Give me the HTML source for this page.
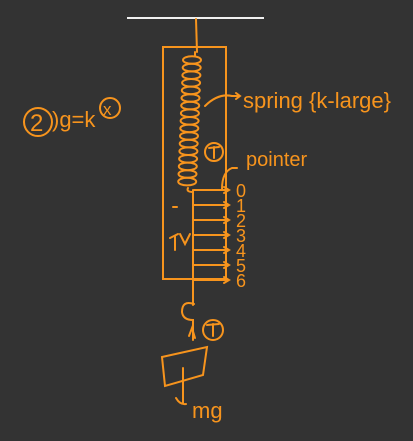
<!DOCTYPE html>
<html><head><meta charset="utf-8"><style>
html,body{margin:0;padding:0;background:#333333;}
svg{display:block}
text{font-family:"Liberation Sans",sans-serif;fill:#f7941d}
</style></head><body>
<svg id="s" width="413" height="441" viewBox="0 0 413 441">
<rect width="413" height="441" fill="#333333"/>
<line x1="127" y1="18" x2="264" y2="18" stroke="#f0f0f0" stroke-width="2"/>
<g stroke="#f7941d" stroke-width="2" fill="none" stroke-linecap="round" id="ink">
<line x1="196" y1="19" x2="197" y2="52"/>
<rect x="163" y="47" width="63" height="232"/>
<path d="M195 52 L195 56 M188 188 Q186 192 193 192"/>
<line x1="193" y1="190" x2="193" y2="305"/>
<path d="M194 304 Q182 300 182 312 Q183 320 193 320 L193 340"/>
<path d="M189 336 L192 328 L195 338"/>
<circle cx="213" cy="330" r="10"/>
<path d="M207 325 L219 324 M213 324 L213 336"/>
<path d="M162 357 L207 347 L203 375 L165 386 Z"/>
<path d="M183 368 L183 403 M176 398 Q180 405 186 404"/>
<path d="M170 238 L178 234 M175 236 L175 250 M180 234 L185 244 L190 234"/>
<line x1="173" y1="207" x2="177" y2="207"/>
<circle cx="214" cy="152" r="9"/>
<path d="M209 148 L219 147 M214 147 L214 158"/>
<path d="M205 106 Q218 93 232 96 L240 96 M236 93 L240 96 L236 99"/>
<path d="M222 189 Q222 172 232 168 L237 168"/>
<circle cx="38" cy="122" r="14"/>
<circle cx="110" cy="108" r="10"/>
</g>
<text x="30" y="131" font-size="24">2</text>
<text x="52" y="127" font-size="22">)g=k</text>
<text x="103" y="115" font-size="17">x</text>
<text x="243" y="108" font-size="22">spring {k-large}</text>
<text x="246" y="166" font-size="20">pointer</text>
<text x="192" y="418" font-size="22">mg</text>
</svg>
<script>
var ns="http://www.w3.org/2000/svg",svg=document.getElementById('s'),ink=document.getElementById('ink');
var coilCount=17;
for(var i=0;i<coilCount;i++){
 var e=document.createElementNS(ns,'ellipse');
 
 
 e.setAttribute('cx',192-i*0.3);e.setAttribute('cy',60+i*7.6);
 e.setAttribute('rx',9);e.setAttribute('ry',3.8);
 ink.appendChild(e);
}
var labels=['0','1','2','3','4','5','6'];
labels.forEach(function(l,i){
 var y=190+i*15;
 var p=document.createElementNS(ns,'path');
 
 
 p.setAttribute('d','M194 '+y+' L229 '+y+' M224 '+(y-3)+' L229 '+y+' L224 '+(y+3));
 ink.appendChild(p);
 var t=document.createElementNS(ns,'text');
 
 
 t.setAttribute('x',236);t.setAttribute('y',y+7);t.setAttribute('font-size','18');
 t.textContent=l;svg.appendChild(t);
});
</script>
</body></html>
